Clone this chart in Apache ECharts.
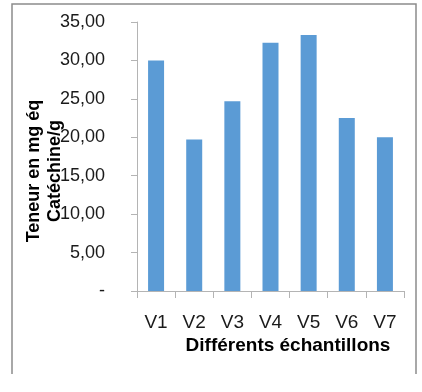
<!DOCTYPE html>
<html>
<head>
<meta charset="utf-8">
<script src="https://cdn.jsdelivr.net/npm/echarts@6/dist/echarts.min.js"></script>
<style>html,body{margin:0;padding:0;background:#fff}#c{width:422px;height:392px}</style>
</head>
<body>
<div id="c"></div>
<script>
const categories = ['V1', 'V2', 'V3', 'V4', 'V5', 'V6', 'V7'];
const values = [30.0, 19.7, 24.7, 32.3, 33.3, 22.5, 20.0];
const yTitle = 'Teneur en mg éq\nCatéchine/g';
const xTitle = 'Différents échantillons';

const chart = echarts.init(document.getElementById('c'), null, {renderer: 'canvas'});
const FONT = '"Liberation Sans", Arial, sans-serif';
chart.setOption({
  animation: false,
  backgroundColor: '#fff',
  grid: {left: 137, right: 18, top: 22, bottom: 101, containLabel: false},
  xAxis: {
    type: 'category',
    data: categories,
    axisLine: {lineStyle: {color: '#b4b4b4', width: 1}},
    axisTick: {show: true, length: 7, lineStyle: {color: '#b4b4b4'}},
    axisLabel: {margin: 22, color: '#1a1a1a', fontSize: 19, fontFamily: FONT}
  },
  yAxis: {
    type: 'value',
    min: 0, max: 35, interval: 5,
    splitLine: {show: false},
    axisLine: {show: true, lineStyle: {color: '#b4b4b4', width: 1}},
    axisTick: {show: true, length: 6, lineStyle: {color: '#b4b4b4'}},
    axisLabel: {
      margin: 32, color: '#1a1a1a', fontSize: 18, fontFamily: FONT,
      formatter: v => v === 0 ? '-' : v.toFixed(2).replace('.', ',')
    }
  },
  series: [{
    type: 'bar',
    data: values,
    barWidth: 16,
    itemStyle: {color: '#5b9bd5'}
  }],
  graphic: [
    {type: 'polyline', shape: {points: [[12, 374], [12, 4], [416, 4], [416, 374]]},
     style: {stroke: '#8c8c8c', lineWidth: 1.5, fill: null}},
    {type: 'text', x: 45, y: 171, rotation: Math.PI / 2,
     style: {text: yTitle, font: 'bold 18px ' + FONT, fill: '#000', align: 'center', verticalAlign: 'middle', lineHeight: 21}},
    {type: 'text', x: 288, y: 346,
     style: {text: xTitle, font: 'bold 19px ' + FONT, fill: '#000', align: 'center', verticalAlign: 'middle'}}
  ]
});
</script>
</body>
</html>
